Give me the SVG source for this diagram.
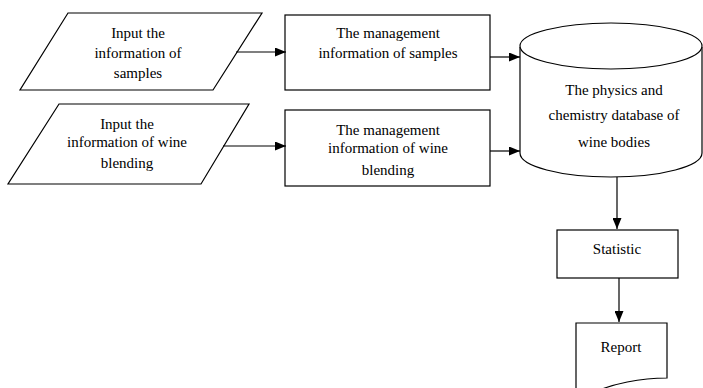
<svg xmlns="http://www.w3.org/2000/svg" width="703" height="388" viewBox="0 0 703 388">
<style>
.s{fill:#fff;stroke:#000;stroke-width:1.2}
.t{font-family:"Liberation Serif","Times New Roman",serif;font-size:15px;fill:#000;text-anchor:middle}
.c{fill:none;stroke:#000;stroke-width:1.2}
</style>
<defs>
<marker id="ah" markerWidth="11" markerHeight="9" refX="11" refY="4.5" orient="auto" markerUnits="userSpaceOnUse">
<path d="M0,0 L11,4.5 L0,9 Z" fill="#000"/>
</marker>
</defs>
<rect width="703" height="388" fill="#fff"/>
<g id="input-samples">
<polygon class="s" points="68,13 262,13 213,90 20,90"/>
<text class="t" x="138" y="38">Input the</text>
<text class="t" x="138" y="58">information of</text>
<text class="t" x="138" y="78">samples</text>
</g>
<g id="input-blending">
<polygon class="s" points="59,104 249,104 201,184 8,184"/>
<text class="t" x="127" y="129">Input the</text>
<text class="t" x="127" y="147">information of wine</text>
<text class="t" x="127" y="168">blending</text>
</g>
<g id="mgmt-samples">
<rect class="s" x="285" y="15" width="205" height="75"/>
<text class="t" x="388" y="38">The management</text>
<text class="t" x="388" y="58">information of samples</text>
</g>
<g id="mgmt-blending">
<rect class="s" x="285" y="110" width="205" height="76"/>
<text class="t" x="388" y="135">The management</text>
<text class="t" x="388" y="153">information of wine</text>
<text class="t" x="388" y="175">blending</text>
</g>
<g id="database">
<path class="s" d="M520,47 V153 A91,24 0 0 0 702,153 V47"/>
<ellipse class="s" cx="611" cy="46" rx="91" ry="23"/>
<text class="t" x="614" y="95">The physics and</text>
<text class="t" x="614" y="120">chemistry database of</text>
<text class="t" x="614" y="147">wine bodies</text>
</g>
<g id="statistic">
<rect class="s" x="557" y="230" width="121" height="48"/>
<text class="t" x="617" y="254">Statistic</text>
</g>
<g id="report">
<path class="s" d="M576,323 H667 V378 C640,378 612,384 595,392 H576 Z"/>
<text class="t" x="621" y="352">Report</text>
</g>
<g id="connectors">
<line class="c" x1="236" y1="52" x2="286" y2="52" marker-end="url(#ah)"/>
<line class="c" x1="223" y1="146" x2="286" y2="146" marker-end="url(#ah)"/>
<line class="c" x1="490" y1="57" x2="520" y2="57" marker-end="url(#ah)"/>
<line class="c" x1="490" y1="151" x2="520" y2="151" marker-end="url(#ah)"/>
<line class="c" x1="617" y1="177" x2="617" y2="229" marker-end="url(#ah)"/>
<line class="c" x1="619" y1="278" x2="619" y2="322" marker-end="url(#ah)"/>
</g>
</svg>
